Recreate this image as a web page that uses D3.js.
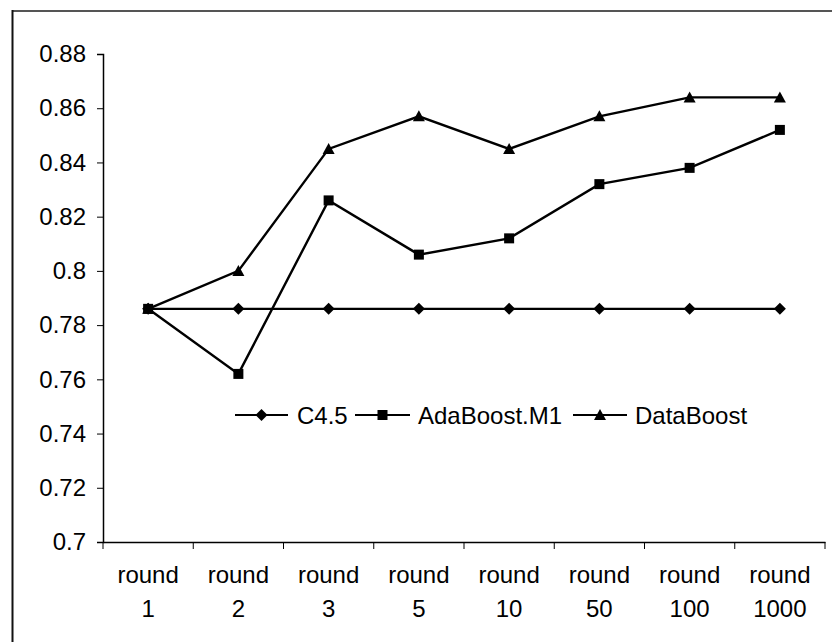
<!DOCTYPE html>
<html>
<head>
<meta charset="utf-8">
<script src="https://cdn.jsdelivr.net/npm/d3@7"></script>
<style>
  html, body { margin: 0; padding: 0; background: #fff; }
  svg { display: block; }
  text { font-family: "Liberation Sans", Arial, sans-serif; fill: #000; }
</style>
</head>
<body>
<svg id="chart" width="832" height="642"></svg>
<script>
const categories = ["round 1", "round 2", "round 3", "round 5", "round 10", "round 50", "round 100", "round 1000"];
const seriesNames = ["C4.5", "AdaBoost.M1", "DataBoost"];
const c45 = [0.786, 0.786, 0.786, 0.786, 0.786, 0.786, 0.786, 0.786];
const adaBoost = [0.786, 0.762, 0.826, 0.806, 0.812, 0.832, 0.838, 0.852];
const dataBoost = [0.786, 0.800, 0.845, 0.857, 0.845, 0.857, 0.864, 0.864];
const yTicks = [0.7, 0.72, 0.74, 0.76, 0.78, 0.8, 0.82, 0.84, 0.86, 0.88];
const markerShapes = ["diamond", "square", "triangle"];

(function () {
const series = [c45, adaBoost, dataBoost].map((v, i) => ({ name: seriesNames[i], values: v, shape: markerShapes[i] }));

const svg = d3.select("#chart");

// outer frame (top and left visible)
svg.append("line").attr("x1", 12).attr("x2", 832).attr("y1", 11).attr("y2", 11)
  .attr("stroke", "#555").attr("stroke-width", 2);
svg.append("line").attr("x1", 12.5).attr("x2", 12.5).attr("y1", 10).attr("y2", 642)
  .attr("stroke", "#111").attr("stroke-width", 2);

const mLeft = 103, mRight = 825, mTop = 54, mBottom = 542;

const x = d3.scaleBand().domain(categories).range([mLeft, mRight]).padding(0);
const y = d3.scaleLinear().domain([0.7, 0.88]).range([mBottom, mTop]);

// Y axis
const yAxis = svg.append("g").attr("transform", `translate(${mLeft},0)`)
  .call(d3.axisLeft(y).tickValues(yTicks).tickFormat(d => String(+d.toFixed(2))).tickSize(6).tickPadding(11));
yAxis.select(".domain").attr("stroke", "#000").attr("stroke-width", 1.5);
yAxis.selectAll(".tick line").attr("stroke", "#000");
yAxis.selectAll("text").attr("font-size", 24).attr("font-family", "Liberation Sans, Arial, sans-serif").attr("fill", "#000");

// X axis
const xAxis = svg.append("g").attr("transform", `translate(0,${mBottom})`)
  .call(d3.axisBottom(x).tickSize(0).tickFormat(""));
xAxis.select(".domain").attr("stroke", "#000").attr("stroke-width", 1.5);
const boundaries = categories.map(c => x(c)).concat([x(categories[categories.length - 1]) + x.bandwidth()]);
svg.append("g").selectAll("line").data(boundaries).join("line")
  .attr("x1", d => d).attr("x2", d => d).attr("y1", mBottom).attr("y2", mBottom + 7)
  .attr("stroke", "#000").attr("stroke-width", 1);
const lab = svg.append("g").selectAll("text").data(categories).join("text")
  .attr("text-anchor", "middle").attr("font-size", 24);
lab.append("tspan").attr("x", d => x(d) + x.bandwidth() / 2).attr("y", 583).text(d => d.split(" ")[0]);
lab.append("tspan").attr("x", d => x(d) + x.bandwidth() / 2).attr("y", 617).text(d => d.split(" ")[1]);

const cx = c => x(c) + x.bandwidth() / 2;
const line = d3.line().x((d, i) => cx(categories[i])).y(d => y(d));

function marker(sel, shape, px, py) {
  if (shape === "diamond") {
    sel.append("path").attr("d", `M${px},${py - 6}L${px + 6},${py}L${px},${py + 6}L${px - 6},${py}Z`).attr("fill", "#000");
  } else if (shape === "square") {
    sel.append("rect").attr("x", px - 5).attr("y", py - 5).attr("width", 10).attr("height", 10).attr("fill", "#000");
  } else {
    sel.append("path").attr("d", `M${px},${py - 6}L${px + 6},${py + 5}L${px - 6},${py + 5}Z`).attr("fill", "#000");
  }
}

const plot = svg.append("g");
series.forEach(s => {
  plot.append("path").attr("d", line(s.values)).attr("fill", "none").attr("stroke", "#000").attr("stroke-width", 2.4);
});
series.forEach(s => {
  const g = plot.append("g");
  s.values.forEach((v, i) => marker(g, s.shape, cx(categories[i]), y(v)));
});

// legend
const legendY = 415;
const legendItems = [
  { x1: 235, x2: 288, tx: 297 },
  { x1: 355, x2: 410, tx: 418 },
  { x1: 573, x2: 627, tx: 635 }
];
const lg = svg.append("g");
series.forEach((s, i) => {
  const it = legendItems[i];
  lg.append("line").attr("x1", it.x1).attr("x2", it.x2).attr("y1", legendY).attr("y2", legendY)
    .attr("stroke", "#000").attr("stroke-width", 2);
  marker(lg, s.shape, (it.x1 + it.x2) / 2, legendY);
  lg.append("text").attr("x", it.tx).attr("y", legendY + 8.5).attr("font-size", 24).text(s.name);
});
})();
</script>
</body>
</html>
